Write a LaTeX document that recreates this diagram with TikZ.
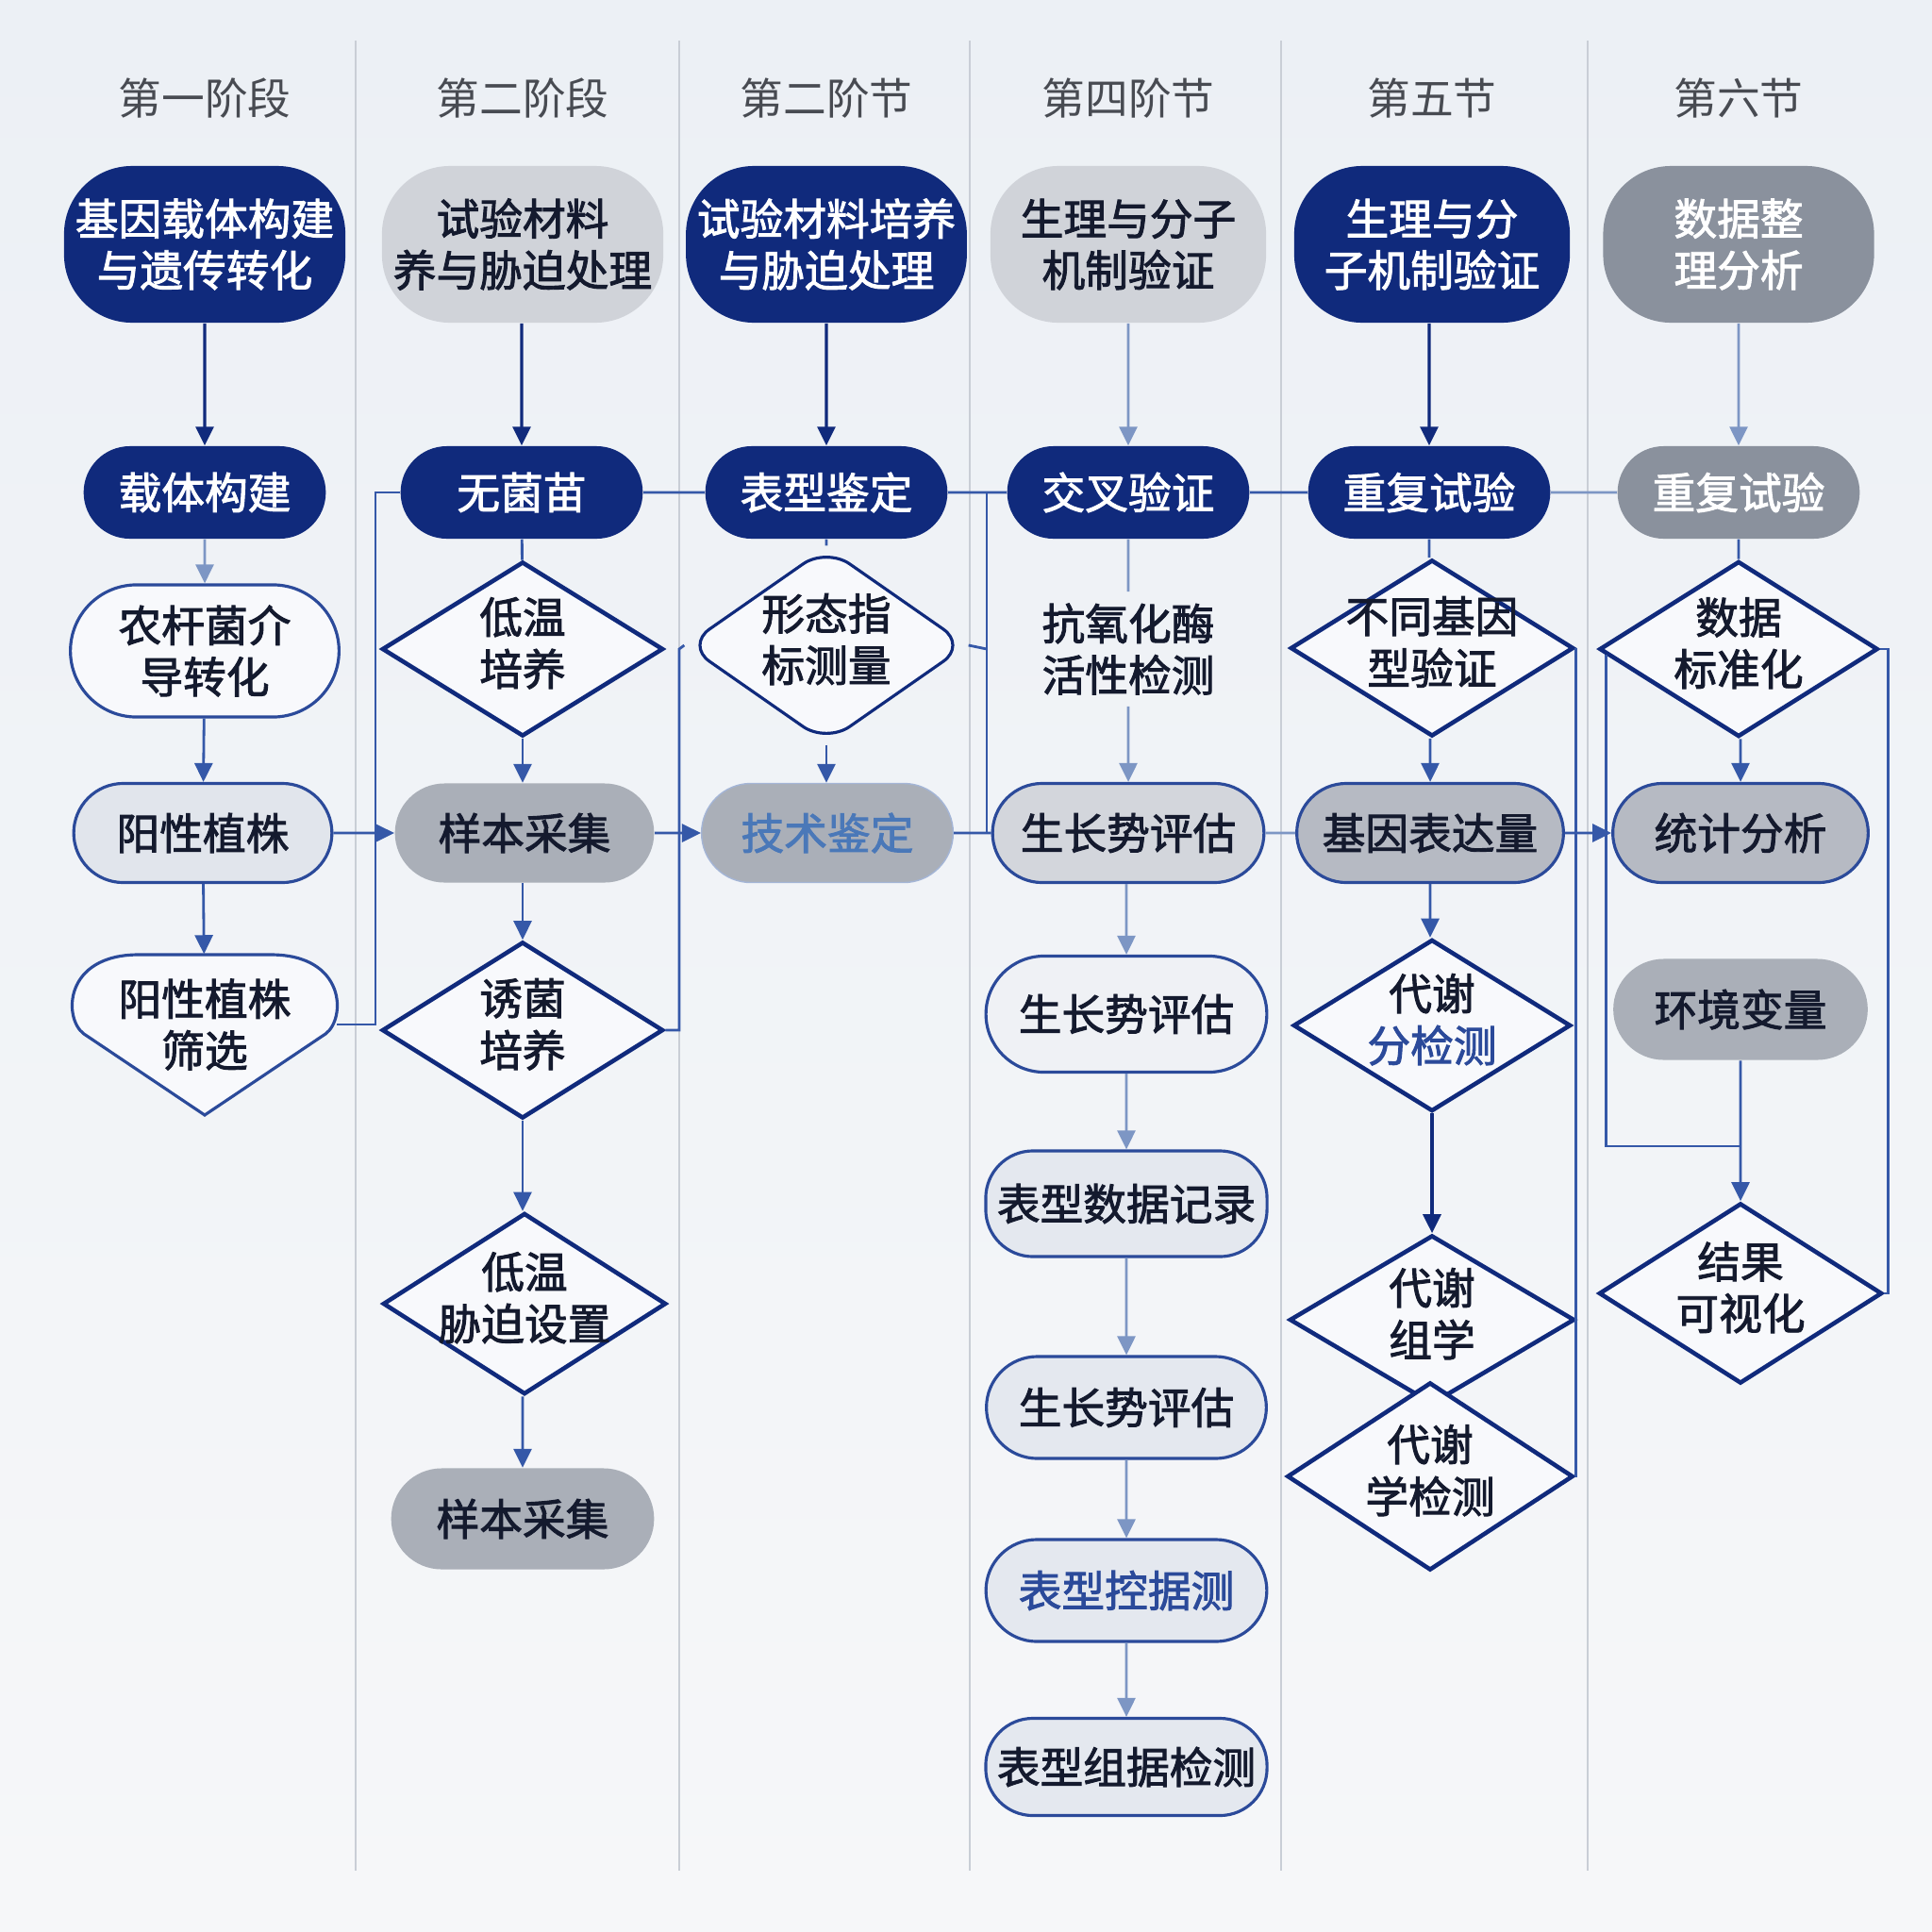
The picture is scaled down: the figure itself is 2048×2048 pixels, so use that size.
\documentclass[tikz,border=0pt]{standalone}
\usepackage{fontspec}
\setmainfont{Noto Sans CJK SC}[BoldFont={Noto Sans CJK SC},BoldFeatures={FakeBold=2}]
\usepackage{tikz}
\usetikzlibrary{calc,shapes.geometric,shapes.misc,arrows.meta,positioning}

\definecolor{navy}{HTML}{102A7C}
\definecolor{ink}{HTML}{141A2E}
\definecolor{hdrgrey}{HTML}{484B52}
\definecolor{lightgrey}{HTML}{D0D3D9}
\definecolor{midgrey}{HTML}{8A919D}
\definecolor{pillgrey}{HTML}{AAAFB8}
\definecolor{palefill}{HTML}{E4E8EF}
\definecolor{edgeblue}{HTML}{2B4A9A}
\definecolor{linemid}{HTML}{3558A8}
\definecolor{linelight}{HTML}{7D96C4}
\definecolor{divcol}{HTML}{C9CED6}
\definecolor{bgtop}{HTML}{ECF0F5}
\definecolor{bgbot}{HTML}{F6F7F9}
\definecolor{diafill}{HTML}{F8F9FC}
\definecolor{fadeblue}{HTML}{4A78B8}

\newcommand{\zw}[1]{\makebox[0pt]{\begin{tabular}{@{}c@{}}#1\end{tabular}}}

\tikzset{
  txt/.style={font=\bfseries\fontsize{13}{15.5}\selectfont},
  hdr/.style={font=\fontsize{13}{15}\selectfont, text=hdrgrey},
  bigbox/.style={txt, rounded corners=0.72cm, minimum width=2.92cm, minimum height=1.66cm, align=center},
  bigdark/.style={bigbox, fill=navy, text=white},
  biglight/.style={bigbox, fill=lightgrey, text=ink},
  biggrey/.style={bigbox, fill=midgrey, text=white},
  pill/.style={txt, rounded rectangle, minimum width=2.8cm, minimum height=0.98cm, align=center},
  pilldark/.style={pill, fill=navy, text=white},
  pillgrey/.style={pill, fill=midgrey, text=white},
  pilllight/.style={pill, fill=palefill, draw=edgeblue, line width=0.9pt, text=ink},
  pillmid/.style={pill, fill=pillgrey, text=ink},
  pillwide/.style={txt, rectangle, rounded corners=0.5cm, fill=palefill, draw=edgeblue, line width=0.9pt, text=ink, minimum width=2.98cm},
  dia/.style={txt, diamond, draw=navy, line width=1.3pt, fill=diafill, inner sep=0pt, text=ink},
  line/.style={draw=linemid, line width=0.8pt},
  linel/.style={draw=linelight, line width=0.8pt},
  arrdark/.style={draw=navy, line width=0.9pt, -{Triangle[length=0.2cm,width=0.19cm]}},
  arrmid/.style={line, -{Triangle[length=0.2cm,width=0.19cm]}},
  arrlight/.style={linel, -{Triangle[length=0.2cm,width=0.19cm]}},
  divider/.style={draw=divcol, line width=0.7pt}
}

\begin{document}
\begin{tikzpicture}[x=0.01cm,y=-0.01cm]
    \shade[top color=bgtop,bottom color=bgbot] (0,0) rectangle (2048,2048);
    \useasboundingbox (0,0) rectangle (2048,2048);
    \foreach \x in {377,720,1028,1358,1683}
      \draw[divider] (\x,43) -- (\x,1983);

    \node (h1) at (217,104) [hdr] {第一阶段};
    \node (h2) at (554,104) [hdr] {第二阶段};
    \node (h3) at (876,104) [hdr] {第二阶节};
    \node (h4) at (1196,104) [hdr] {第四阶节};
    \node (h5) at (1518,104) [hdr] {第五节};
    \node (h6) at (1843,104) [hdr] {第六节};

    \node (a1) at (217,259) [bigdark,minimum width=2.98cm] {基因载体构建\\与遗传转化};
    \node (b1) at (554,259) [biglight,minimum width=2.98cm] {试验材料\\养与胁迫处理};
    \node (c1) at (876,259) [bigdark] {试验材料培养\\与胁迫处理};
    \node (d1) at (1196,259) [biglight] {生理与分子\\机制验证};
    \node (e1) at (1518,259) [bigdark] {生理与分\\子机制验证};
    \node (f1) at (1843,259) [biggrey,minimum width=2.87cm] {数据整\\理分析};

    \node (a2) at (217,522) [pilldark] {载体构建};
    \node (b2) at (553,522) [pilldark] {无菌苗};
    \node (c2) at (876,522) [pilldark] {表型鉴定};
    \node (d2) at (1196,522) [pilldark] {交叉验证};
    \node (e2) at (1515,522) [pilldark] {重复试验};
    \node (f2) at (1843,522) [pillgrey] {重复试验};

    \node (a3) at (217,690) [pilllight,fill=diafill,minimum width=3.08cm,minimum height=1.4cm] {农杆菌介\\导转化};
    \node (b3) at (554,688) [dia,minimum width=2.98cm,minimum height=1.85cm] {\zw{低温\\培养}};
    \node (c3) at (876,684) [dia,line width=0.9pt,rounded corners=0.3cm,minimum width=2.98cm,minimum height=2.08cm] {\zw{形态指\\标测量}};
    \node (d3) at (1196,688) [txt,align=center,text=ink] {抗氧化酶\\活性检测};
    \node (e3) at (1518,687) [dia,minimum width=3cm,minimum height=1.87cm] {\zw{不同基因\\型验证}};
    \node (f3) at (1843,688) [dia,minimum width=2.95cm,minimum height=1.86cm] {\zw{数据\\标准化}};

    \node (a4) at (215,883) [pilllight,fill=palefill!85!lightgrey,minimum width=2.97cm,minimum height=1.05cm] {阳性植株};
    \node (b4) at (556,883) [pillmid,minimum width=2.98cm,minimum height=1.05cm] {样本采集};
    \node (c4) at (877,883) [pillmid,draw=linelight!70,text=fadeblue,minimum width=2.9cm,minimum height=1.05cm] {技术鉴定};
    \node (d4) at (1196,883) [pilllight,fill=lightgrey!85!palefill,minimum width=3.11cm,minimum height=1.05cm] {生长势评估};
    \node (e4) at (1516,883) [pilllight,fill=pillgrey!80!palefill,minimum width=3.06cm,minimum height=1.05cm] {基因表达量};
    \node (f4) at (1845,883) [pilllight,fill=pillgrey!80!palefill,minimum width=2.94cm,minimum height=1.05cm] {统计分析};

    \draw[edgeblue,line width=0.9pt,fill=diafill] [shift={(217,1086)}]
      (0,96) -- (-128,10) .. controls (-150,-6) and (-150,-74) .. (-70,-74)
      -- (70,-74) .. controls (150,-74) and (150,-6) .. (128,10) -- cycle;
    \node (a5) at (217,1086) [txt,align=center,text=ink,minimum width=2.78cm,minimum height=1.48cm] {阳性植株\\筛选};
    \node (b5) at (554,1092) [dia,minimum width=2.98cm,minimum height=1.87cm] {\zw{诱菌\\培养}};
    \node (d5) at (1194,1075) [pilllight,fill=palefill!60!white,minimum width=3.21cm,minimum height=1.23cm] {生长势评估};
    \node (e5) at (1518,1087) [dia,minimum width=2.94cm,minimum height=1.82cm] {\zw{代谢\\\textcolor{edgeblue}{分检测}}};
    \node (f5) at (1845,1070) [pillmid,minimum width=2.93cm,minimum height=1.07cm] {环境变量};

    \node (b6) at (556,1382) [dia,minimum width=3cm,minimum height=1.92cm] {\zw{低温\\胁迫设置}};
    \node (d6) at (1194,1276) [pillwide,minimum height=1.12cm] {表型数据记录};
    \node (e6) at (1518,1399) [dia,minimum width=3.02cm,minimum height=1.79cm] {\zw{代谢\\组学}};
    \node (f6) at (1845,1371) [dia,minimum width=3cm,minimum height=1.91cm] {\zw{结果\\可视化}};

    \node (b7) at (554,1610) [pillmid,minimum width=3.02cm,minimum height=1.07cm] {样本采集};
    \node (d7) at (1194,1492) [pilllight,minimum width=3.2cm,minimum height=1.08cm] {生长势评估};
    \node (e7) at (1516,1565) [dia,minimum width=3.03cm,minimum height=1.99cm] {\zw{代谢\\学检测}};

    \node (d8) at (1194,1686) [pilllight,text=edgeblue,minimum width=3.21cm,minimum height=1.08cm] {表型控据测};
    \node (d9) at (1194,1873) [pillwide,minimum height=1.03cm] {表型组据检测};

    \draw[arrdark] (a1) -- (a2);
    \draw[arrlight] (a2) -- (a3);
    \draw[arrmid] (a3) -- (a4);
    \draw[arrmid] (a4) -- (a5);

    \draw[arrdark] (b1.south -| b2) -- (b2);
    \draw[line] (b2) -- (b3);
    \draw[arrmid] (b3) -- (b4.north -| b3);
    \draw[arrmid] (b4.south -| b5) -- (b5);
    \draw[arrmid] (b5) -- (b6.north -| b5);
    \draw[arrmid] (b6.south -| b7) -- (b7);

    \draw[arrdark] (c1) -- (c2);
    \draw[line] (c2) -- (c3);
    \draw[arrmid] (c3) -- (c4.north -| c3);

    \draw[arrlight] (d1) -- (d2);
    \draw[linel] (d2) -- (d3);
    \draw[arrlight] (d3) -- (d4);
    \draw[arrlight] (d4.south -| d5) -- (d5);
    \draw[arrlight] (d5) -- (d6);
    \draw[arrlight] (d6) -- (d7);
    \draw[arrlight] (d7) -- (d8);
    \draw[arrlight] (d8) -- (d9);

    \draw[arrdark] (e1.south -| e2) -- (e2);
    \draw[line] (e2) -- (e3.north -| e2);
    \draw[arrmid] (e3.south -| e4) -- (e4);
    \draw[arrmid] (e4) -- (e5.north -| e4);
    \draw[arrdark] (e5.south -| e6) -- (e6);

    \draw[arrlight] (f1) -- (f2);
    \draw[line] (f2) -- (f3);
    \draw[arrmid] (f3.south -| f4) -- (f4);
    \draw[arrmid] (f5) -- (f6);

    \draw[line] (b2) -- (c2);
    \draw[line] (c2) -- (d2);
    \draw[line] (d2) -- (e2);
    \draw[linel] (e2) -- (f2);

    \coordinate (j1) at (398,1086);
    \draw[line] (b2.west) -| (j1) -- (a5.east);
    \draw[arrmid] (a4) -- (b4);

    \coordinate (j2) at (720,688);
    \draw[line] (c3.west) -- (j2) |- (b5.east);
    \draw[arrmid] (b4) -- (c4);

    \coordinate (j3) at (1046,688);
    \draw[line] (c3.east) -- (j3);
    \draw[line] (j3 |- d2.west) -- (j3 |- d4.west);
    \draw[line] (c4) -- (d4);

    \draw[linel] (d4) -- (e4);
    \draw[arrmid] (e4) -- (f4);
    \draw[line] (e3.east) -- (e3.east |- e7.east) -- (e7.east);

    \coordinate (j4) at (1845,1215);
    \draw[line] ($(f3.west)!0.06!(f3.south)$) |- (j4);
    \draw[line] (f3.east) -- ++(9,0) |- (f6.east);

\end{tikzpicture}
\end{document}
